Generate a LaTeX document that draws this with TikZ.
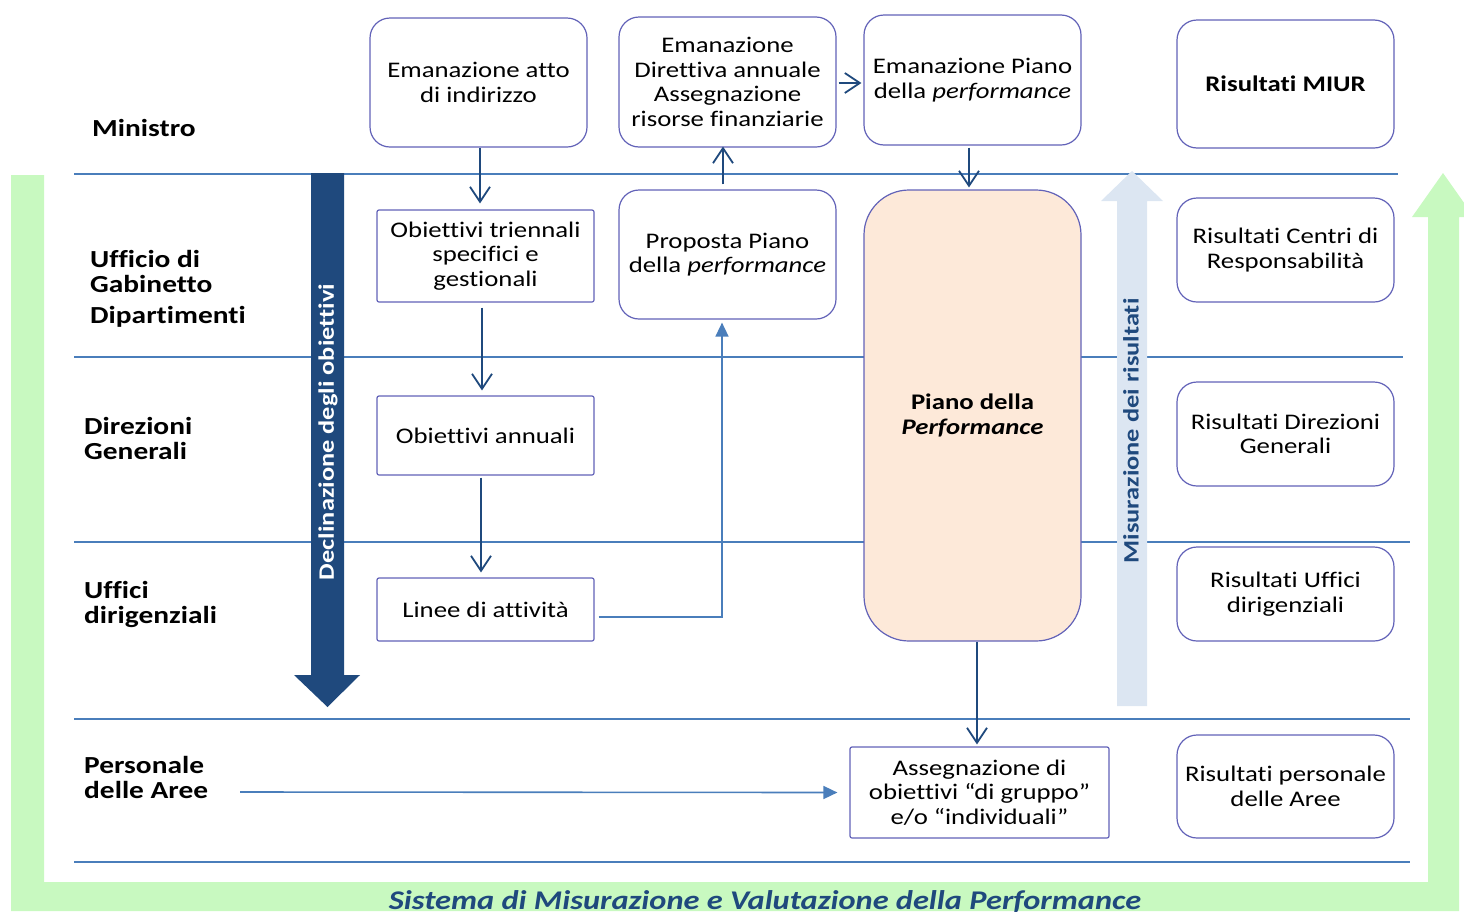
\documentclass[tikz,border=0pt]{standalone}
\usepackage{fontspec}
\setmainfont{Carlito}[FakeStretch=1.2, Ligatures=NoCommon]
\usetikzlibrary{arrows.meta,calc}
\definecolor{dkblue}{HTML}{1F497D}
\definecolor{lnblue}{HTML}{4A7EBB}
\definecolor{bxborder}{HTML}{6262B8}
\definecolor{grn}{HTML}{C8F9C0}
\definecolor{ltblue}{HTML}{DCE6F2}
\definecolor{peach}{HTML}{FDE9D9}
\begin{document}
\begin{tikzpicture}[x=1pt,y=-1pt,
  txt/.style={font=\fontsize{22.3}{24.5}\selectfont},
  rbox/.style={draw=bxborder, line width=1.2pt, rounded corners=20pt, fill=white, align=center, inner sep=0pt, txt},
  sbox/.style={draw=bxborder, line width=1.2pt, rounded corners=2pt, fill=white, align=center, inner sep=0pt, txt},
  lvl/.style={anchor=west, align=left, inner sep=0pt, font=\fontsize{24.5}{24.5}\selectfont\bfseries},
  hline/.style={draw=lnblue, line width=2pt},
  conn/.style={draw=dkblue, line width=1.8pt, -{Straight Barb[length=15pt,width=20pt,line width=1.8pt]}},
  conn2/.style={draw=lnblue, line width=1.6pt, -{Triangle[length=14pt,width=13pt]}}
]
\useasboundingbox (0,0) rectangle (1464,911);
\clip (0,0) rectangle (1464,911);
% green U arrow
\fill[grn] (11,175) -- (44,175) -- (44,882) -- (1428,882) -- (1428,217) -- (1412,217)
  -- (1443,173) -- (1474,217) -- (1459,217) -- (1459,911) -- (11,911) -- cycle;
\node[font=\fontsize{27}{30}\selectfont\bfseries\itshape, text=dkblue] (sys) at (765,902) {Sistema di Misurazione e Valutazione della Performance};
% horizontal lines
\draw[hline] (74,174) -- (1398,174);
\draw[hline] (74,357) -- (1403,357);
\draw[hline] (74,542) -- (1410,542);
\draw[hline] (74,719) -- (1410,719);
\draw[hline] (74,862) -- (1410,862);
% level labels
\node[lvl] (l1) at (92,128) {Ministro};
\node[lvl] (l2) at (90,271.5) {Ufficio di\\Gabinetto};
\node[lvl] (l2b) at (90,317) {Dipartimenti};
\node[lvl] (l3) at (84,438.5) {Direzioni\\Generali};
\node[lvl] (l4) at (84,604.5) {Uffici\\dirigenziali};
\node[lvl] (l5) at (84,777.5) {Personale\\delle Aree};
% big arrows
\fill[dkblue] (311,173) -- (344,173) -- (344,675) -- (360,675) -- (327.5,707) -- (294,675) -- (311,675) -- cycle;
\node[rotate=90, text=white, font=\fontsize{22}{24}\selectfont\bfseries] (decl) at (328,432) {Declinazione degli obiettivi};
\fill[ltblue] (1117,706) -- (1117,201) -- (1101,201) -- (1132,171) -- (1163,201) -- (1147,201) -- (1147,706) -- cycle;
\node[rotate=90, text=dkblue, font=\fontsize{22}{24}\selectfont\bfseries] (mis) at (1131,431) {Misurazione dei risultati};
% boxes
\node[rbox, minimum width=217, minimum height=129] (b1) at (478.5,82.5) {Emanazione atto\\di indirizzo};
\node[rbox, minimum width=217, minimum height=130] (b2) at (727.5,82) {Emanazione\\Direttiva annuale\\Assegnazione\\risorse finanziarie};
\node[rbox, minimum width=217, minimum height=130] (b3) at (972.5,80) {Emanazione Piano\\della \textit{performance}};
\node[rbox, minimum width=217, minimum height=128, font=\fontsize{22.3}{24.5}\selectfont\bfseries] (b4) at (1285.5,84) {Risultati MIUR};
\node[sbox, minimum width=217, minimum height=92] (b5) at (485.5,256) {Obiettivi triennali\\specifici e\\gestionali};
\node[rbox, minimum width=217, minimum height=129] (b6) at (727.5,254.5) {Proposta Piano\\della \textit{performance}};
\node[rbox, rounded corners=45pt, fill=peach, minimum width=217, minimum height=451, font=\fontsize{22.3}{24.5}\selectfont\bfseries] (b7) at (972.5,415.5) {Piano della\\\textit{Performance}};
\node[rbox, minimum width=217, minimum height=104] (b8) at (1285.5,250) {Risultati Centri di\\Responsabilità};
\node[sbox, minimum width=217, minimum height=79] (b9) at (485.5,435.5) {Obiettivi annuali};
\node[rbox, minimum width=217, minimum height=104] (b10) at (1285.5,434) {Risultati Direzioni\\Generali};
\node[sbox, minimum width=217, minimum height=63] (b11) at (485.5,609.5) {Linee di attività};
\node[rbox, minimum width=217, minimum height=94] (b12) at (1285.5,594) {Risultati Uffici\\dirigenziali};
\node[sbox, minimum width=259, minimum height=91] (b13) at (979.5,792.5) {Assegnazione di\\obiettivi “di gruppo”\\e/o “individuali”};
\node[rbox, minimum width=217, minimum height=103] (b14) at (1285.5,786.5) {Risultati personale\\delle Aree};
% connectors
\draw[conn] ($(b1.south)+(1.5,0)$) -- ($(b5.north)+(-5.5,-6)$);
\draw[conn] ($(b5.south)+(-3.5,5)$) -- ($(b9.north)+(-3.5,-5)$);
\draw[conn] ($(b9.south)+(-4.5,2)$) -- ($(b11.north)+(-4.5,-5)$);
\draw[conn2] ($(b11.east)+(4,7.5)$) -| ($(b6.south)+(-5.5,3)$);
\draw[conn] ($(b6.north)+(-4.5,-5)$) -- ($(b2.south)+(-4.5,-1)$);
\draw[conn] ($(b2.east)+(2,1)$) -- ($(b3.west)+(-2,3)$);
\draw[conn] ($(b3.south)+(-3.5,2)$) -- ($(b7.north)+(-3.5,-2)$);
\draw[conn] ($(b7.south)+(4.5,0)$) -- ($(b13.north)+(-2.5,-2)$);
\coordinate (p0) at (240,792);
\draw[conn2] (p0) -- ($(b13.west)+(-12,0)$);
\end{tikzpicture}
\end{document}
